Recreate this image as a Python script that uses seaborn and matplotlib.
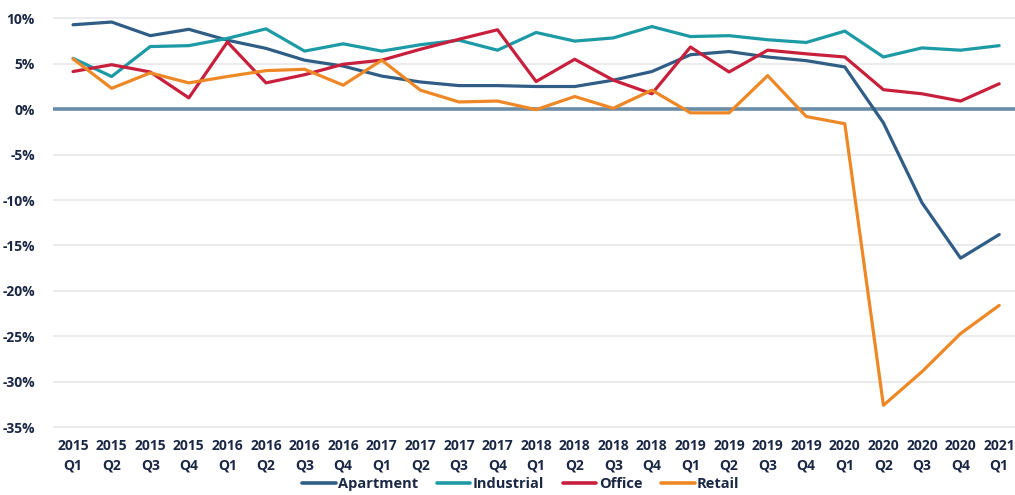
import pandas as pd
import seaborn as sns
import matplotlib.pyplot as plt

periods = ['2015\nQ1', '2015\nQ2', '2015\nQ3', '2015\nQ4',
           '2016\nQ1', '2016\nQ2', '2016\nQ3', '2016\nQ4',
           '2017\nQ1', '2017\nQ2', '2017\nQ3', '2017\nQ4',
           '2018\nQ1', '2018\nQ2', '2018\nQ3', '2018\nQ4',
           '2019\nQ1', '2019\nQ2', '2019\nQ3', '2019\nQ4',
           '2020\nQ1', '2020\nQ2', '2020\nQ3', '2020\nQ4',
           '2021\nQ1']

apartment = [9.3, 9.6, 8.1, 8.8, 7.6, 6.7, 5.4, 4.75, 3.65, 3.0, 2.6, 2.6, 2.5,
             2.5, 3.2, 4.15, 6.0, 6.35, 5.75, 5.35, 4.65, -1.5, -10.3, -16.4, -13.8]
industrial = [5.6, 3.6, 6.9, 7.0, 7.8, 8.85, 6.4, 7.2, 6.4, 7.1, 7.6, 6.5, 8.45,
              7.5, 7.85, 9.1, 8.0, 8.1, 7.65, 7.35, 8.6, 5.75, 6.75, 6.5, 7.0]
office = [4.15, 4.9, 4.1, 1.25, 7.4, 2.9, 3.8, 4.95, 5.4, 6.6, 7.7, 8.75, 3.05,
          5.5, 3.2, 1.7, 6.85, 4.1, 6.5, 6.1, 5.75, 2.15, 1.7, 0.9, 2.8]
retail = [5.55, 2.3, 4.0, 2.9, 3.6, 4.25, 4.4, 2.65, 5.4, 2.1, 0.8, 0.9, -0.05,
          1.4, 0.1, 2.1, -0.4, -0.4, 3.7, -0.8, -1.6, -32.6, -28.9, -24.7, -21.6]

yticks = [10, 5, 0, -5, -10, -15, -20, -25, -30, -35]

series = {'Apartment': apartment, 'Industrial': industrial,
          'Office': office, 'Retail': retail}
colors = {'Apartment': '#2f5d86', 'Industrial': '#1c9aa6',
          'Office': '#c81f3c', 'Retail': '#ee8826'}

rows = []
for name, vals in series.items():
    for i, v in enumerate(vals):
        rows.append({'idx': i, 'value': v, 'type': name})
df = pd.DataFrame(rows)

sns.set_style('white')
plt.rcParams['font.family'] = ['Open Sans', 'DejaVu Sans']
text_color = '#1b2845'

fig = plt.figure(figsize=(10.15, 4.95), dpi=100)
ax = fig.add_axes([0.0522, 0.128, 0.9478, 0.844])

# gridlines
for t in yticks:
    if t != 0:
        ax.axhline(t, color='#ebebee', lw=1.4, zorder=0)
ax.axhline(0, color='#6a8ca6', lw=2.6, zorder=1)

sns.lineplot(data=df, x='idx', y='value', hue='type', palette=colors,
             linewidth=2.3, ax=ax, sort=False, legend=True, zorder=3)

ax.set_xlim(-0.52, 24.41)
ax.set_ylim(-35.5, 10.5)
ax.set_xticks(range(len(periods)))
ax.set_xticklabels(periods, fontsize=10, fontweight='bold', color=text_color,
                   linespacing=1.5)
ax.set_yticks(yticks)
ax.set_yticklabels([f'{t}%' for t in yticks], fontsize=10, fontweight='bold',
                   color=text_color)
ax.tick_params(axis='both', length=0, pad=5)
ax.tick_params(axis='y', pad=13)
ax.set_xlabel('')
ax.set_ylabel('')
sns.despine(ax=ax, left=True, bottom=True)

handles, labels = ax.get_legend_handles_labels()
ax.get_legend().remove()
leg = fig.legend(handles, labels, loc='center', bbox_to_anchor=(0.513, 0.022),
                 ncol=4, frameon=False, handlelength=2.3, handletextpad=0.15,
                 columnspacing=1.3, prop={'size': 10.5, 'weight': 'bold'})
for txt in leg.get_texts():
    txt.set_color(text_color)
for line in leg.get_lines():
    line.set_linewidth(2.6)

fig.savefig('out.png', dpi=100)
